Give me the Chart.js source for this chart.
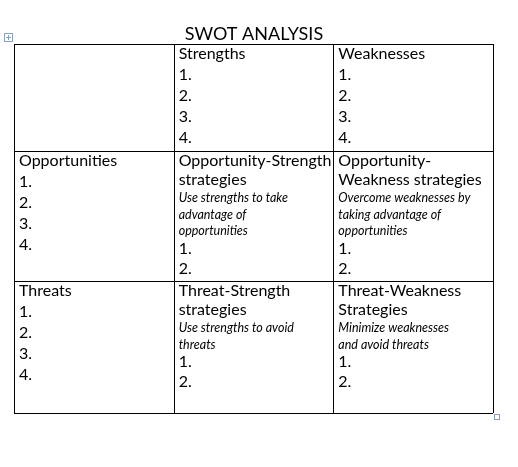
<!DOCTYPE html>
<html><head><meta charset="utf-8">
<script src="https://cdn.jsdelivr.net/npm/chart.js@4/dist/chart.umd.min.js"></script>
<style>body{margin:0;background:#fff}</style>
</head><body>
<canvas id="c" width="518" height="467"></canvas>
<script>
// SWOT table content
const title = 'SWOT ANALYSIS';
const colHeaders = ['', 'Strengths', 'Weaknesses'];
const rowHeaders = ['', 'Opportunities', 'Threats'];
const listItems = ['1.', '2.', '3.', '4.'];
const strategyTitles = [
  ['Opportunity-Strength\nstrategies', 'Opportunity-\nWeakness strategies'],
  ['Threat-Strength\nstrategies', 'Threat-Weakness\nStrategies']
];
const strategyNotes = [
  ['Use strengths to take\nadvantage of\nopportunities', 'Overcome weaknesses by\ntaking advantage of\nopportunities'],
  ['Use strengths to avoid\nthreats', 'Minimize weaknesses\nand avoid threats']
];
const strategyItems = ['1.', '2.'];
// row boundaries in table units (rows differ in height)
const rowEdges = [0, 107, 237, 369];

const FONT = 'Lato, "Liberation Sans", sans-serif';

function cellLines(r, c) {
  const L = [];
  if (r === 0 && c > 0) { L.push([colHeaders[c], 21]); listItems.forEach(t => L.push([t, 21])); }
  else if (c === 0 && r > 0) { L.push([rowHeaders[r], 21]); listItems.forEach(t => L.push([t, 21])); }
  else if (r > 0 && c > 0) {
    strategyTitles[r-1][c-1].split('\n').forEach(s => L.push([s, 19]));
    strategyNotes[r-1][c-1].split('\n').forEach(s => L.push([s, 'i']));
    strategyItems.forEach(s => L.push([s, 20]));
  }
  return L;
}

const tablePlugin = {
  id: 'table',
  afterDraw(chart) {
    const ctx = chart.ctx, x = chart.scales.x, y = chart.scales.y;
    ctx.save();
    ctx.fillStyle = '#000';
    ctx.font = '18px ' + FONT;
    ctx.textAlign = 'center'; ctx.textBaseline = 'alphabetic';
    ctx.fillText(title, 254, 40);
    ctx.strokeStyle = '#000'; ctx.lineWidth = 1;
    for (let c = 0; c <= 3; c++) {
      const px = Math.round(x.getPixelForValue(c)) + 0.5;
      ctx.beginPath(); ctx.moveTo(px, y.getPixelForValue(0)); ctx.lineTo(px, y.getPixelForValue(369)); ctx.stroke();
    }
    rowEdges.forEach(v => {
      const py = Math.round(y.getPixelForValue(v)) + 0.5;
      ctx.beginPath(); ctx.moveTo(x.getPixelForValue(0), py); ctx.lineTo(x.getPixelForValue(3), py); ctx.stroke();
    });
    ctx.textAlign = 'left'; ctx.textBaseline = 'top';
    for (let r = 0; r < 3; r++) for (let c = 0; c < 3; c++) {
      let ty = y.getPixelForValue(rowEdges[r]) + 2;
      const tx = x.getPixelForValue(c) + 5;
      cellLines(r, c).forEach(([s, k]) => {
        if (k === 'i') { ctx.font = 'italic 12.5px ' + FONT; ctx.fillText(s, tx, ty + 1); ty += 16.5; }
        else { ctx.font = '16px ' + FONT; ctx.fillText(s, tx, ty); ty += k; }
      });
    }
    // selection handles
    ctx.strokeStyle = '#8aa0c0';
    ctx.strokeRect(4.5, 33.5, 8, 8);
    ctx.beginPath(); ctx.moveTo(6, 37.5); ctx.lineTo(11, 37.5); ctx.moveTo(8.5, 35); ctx.lineTo(8.5, 40); ctx.stroke();
    ctx.strokeRect(494.5, 414.5, 5, 5);
    ctx.restore();
  }
};

new Chart(document.getElementById('c'), {
  type: 'scatter',
  data: { datasets: [{ data: [] }] },
  options: {
    responsive: false, animation: false,
    layout: { padding: { left: 14, top: 44, right: 25, bottom: 54 } },
    plugins: { legend: { display: false }, tooltip: { enabled: false } },
    scales: {
      x: { type: 'linear', min: 0, max: 3, display: false },
      y: { type: 'linear', min: 0, max: 369, reverse: true, display: false }
    }
  },
  plugins: [tablePlugin]
});
</script>
</body></html>
